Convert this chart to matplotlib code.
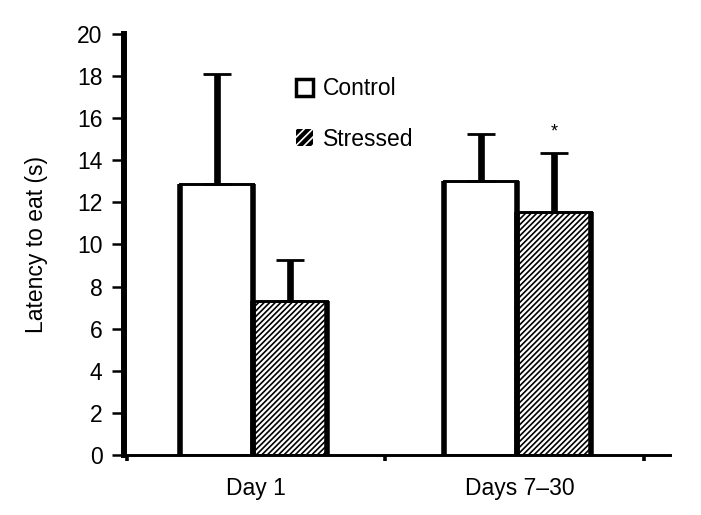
import matplotlib
matplotlib.use('Agg')
import matplotlib.pyplot as plt
from matplotlib.patches import Patch

# 数据
groups = ['Day 1', 'Days 7–30']
control_mean = [12.87, 13.0]
control_err = [5.23, 2.25]
stressed_mean = [7.3, 11.55]
stressed_err = [1.96, 2.8]
sig_marks = ['', '*']

plt.rcParams['font.family'] = ['Liberation Sans', 'DejaVu Sans']
plt.rcParams['hatch.linewidth'] = 1.2

fig = plt.figure(figsize=(7.01, 5.15), dpi=100)
ax = fig.add_axes([0.177, 0.1165, 0.779, 0.8175])

centers = [0.49, 1.51]
w = 0.285
fs = 16.5

x_c = [c - w / 2 for c in centers]
x_s = [c + w / 2 for c in centers]

ax.bar(x_c, control_mean, width=w, color='white', edgecolor='black', linewidth=2.1, zorder=2)
ax.bar(x_s, stressed_mean, width=w, color='white', edgecolor='black', linewidth=2.1,
       hatch='//////', zorder=2)

# 柱子两侧的粗边
for xs, hs in ((x_c, control_mean), (x_s, stressed_mean)):
    for x, h in zip(xs, hs):
        ax.vlines([x - w / 2, x + w / 2], 0, h, colors='black', linewidth=4.0, zorder=3)

# 误差线(只向上)
for xs, ms, es in ((x_c, control_mean, control_err), (x_s, stressed_mean, stressed_err)):
    ax.errorbar(xs, ms, yerr=[[0] * len(es), es], fmt='none', ecolor='black',
                elinewidth=4.8, capsize=10, capthick=2.0, zorder=3)

for x, m, e, s in zip(x_s, stressed_mean, stressed_err, sig_marks):
    if s:
        ax.text(x, m + e + 0.6, s, ha='center', va='bottom', fontsize=13)

ax.set_xlim(-0.01, 2.1)
ax.set_ylim(0, 20)
ax.set_yticks(range(0, 21, 2))
ax.set_xticks([0, 1, 2])
ax.set_xticklabels([])
for c, g in zip(centers, groups):
    ax.text(c + 0.01, -1.9, g, ha='center', va='baseline', fontsize=fs)

ax.spines['top'].set_visible(False)
ax.spines['right'].set_visible(False)
ax.spines['left'].set_linewidth(4.3)
ax.spines['bottom'].set_linewidth(2.1)
ax.tick_params(axis='y', length=8.5, width=1.8, labelsize=fs, pad=7)
ax.tick_params(axis='x', length=4.5, width=2.6, direction='out')

ax.set_ylabel('Latency to eat (s)', fontsize=fs)
ax.yaxis.set_label_coords(-0.14, 0.5)

# 图例: Stressed 为黑底白斜线
with plt.rc_context({'hatch.linewidth': 2.2}):
    handles = [Patch(facecolor='white', edgecolor='black', linewidth=2.5, label='Control'),
               Patch(facecolor='black', edgecolor='white', linewidth=0, hatch='////',
                     label='Stressed')]
ax.legend(handles=handles, loc='upper left', bbox_to_anchor=(0.315, 0.897), frameon=False,
          fontsize=fs, handlelength=0.75, handleheight=0.75, handletextpad=0.42,
          labelspacing=1.2, borderpad=0, borderaxespad=0)

fig.savefig('out.png', dpi=100)
